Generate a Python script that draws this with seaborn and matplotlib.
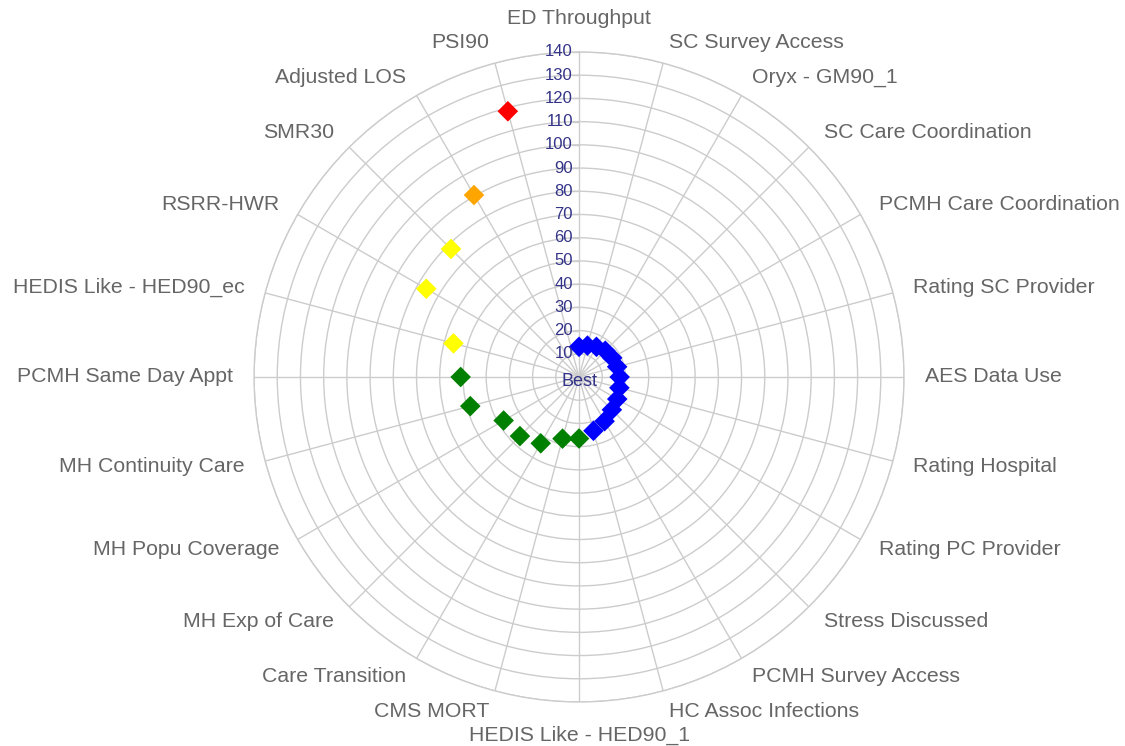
import numpy as np
import pandas as pd
import matplotlib
matplotlib.use("Agg")
import matplotlib.pyplot as plt
import seaborn as sns

# Measures, clockwise from the top
categories = [
    "ED Throughput", "SC Survey Access", "Oryx - GM90_1", "SC Care Coordination",
    "PCMH Care Coordination", "Rating SC Provider", "AES Data Use", "Rating Hospital",
    "Rating PC Provider", "Stress Discussed", "PCMH Survey Access", "HC Assoc Infections",
    "HEDIS Like - HED90_1", "CMS MORT", "Care Transition", "MH Exp of Care",
    "MH Popu Coverage", "MH Continuity Care", "PCMH Same Day Appt", "HEDIS Like - HED90_ec",
    "RSRR-HWR", "SMR30", "Adjusted LOS", "PSI90",
]
scores = [13, 14, 15, 16, 16.5, 17, 17.5, 18, 19, 20, 22, 24,
          26.5, 27.5, 33, 36, 37.5, 48.5, 51, 56, 76, 78, 90.5, 118.5]
tiers = ["blue"] * 12 + ["green"] * 7 + ["yellow"] * 3 + ["orange", "red"]
tier_colors = {"blue": "#0000ff", "green": "#008000", "yellow": "#ffff00",
               "orange": "#ffa500", "red": "#ff0000"}
r_ticks = list(range(0, 150, 10))

sns.set_style("white")
plt.rcParams["font.family"] = ["Liberation Sans", "DejaVu Sans"]

n = len(categories)
theta = np.arange(n) * 2 * np.pi / n
df = pd.DataFrame({"theta": theta, "score": scores, "tier": tiers})

fig = plt.figure(figsize=(11.25, 7.46), dpi=100)
ax = fig.add_axes([0.2258, 0.059, 0.5778, 0.8713], projection="polar")
ax.set_theta_zero_location("N")
ax.set_theta_direction(-1)

sns.scatterplot(data=df, x="theta", y="score", hue="tier", palette=tier_colors,
                marker="D", s=110, edgecolor="none", legend=False, ax=ax, zorder=3)

ax.set_ylim(0, 140)
ax.set_xlabel("")
ax.set_ylabel("")
ax.set_xticks(theta)
ax.set_xticklabels([])
ax.set_yticks(r_ticks)
ax.set_yticklabels([])
ax.grid(True, color="#cccccc", linewidth=1)
ax.spines["polar"].set_color("#cccccc")
ax.spines["polar"].set_linewidth(1)

# category labels outside the circle
for ang, name in zip(theta, categories):
    s = np.sin(ang)
    if abs(s) < 0.01:
        ha, rr = "center", 154.5
    else:
        ha, rr = ("left" if s > 0 else "right"), 149
    ax.text(ang, rr, name, ha=ha, va="center", fontsize=15.3, color="#666666",
            clip_on=False)

# radial tick labels along the top spoke
ax.plot([0] * (len(r_ticks) - 1), r_ticks[1:], linestyle="none", marker=0,
        markersize=5, color="#cccccc", markeredgewidth=1, clip_on=False)
for v in r_ticks[1:]:
    ax.annotate(str(v), xy=(0, v), xytext=(-4.5, 0), textcoords="offset points",
                ha="right", va="center", fontsize=12, color="#333388")
ax.annotate("Best", xy=(0, 0), xytext=(0, -3.5), textcoords="offset points",
            ha="center", va="center", fontsize=13, color="#333388")

fig.savefig("out.png", dpi=100)
